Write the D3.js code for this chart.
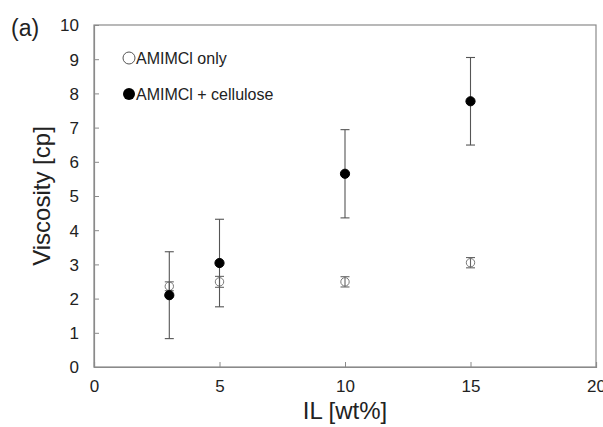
<!DOCTYPE html>
<html>
<head>
<meta charset="utf-8">
<script src="https://cdn.jsdelivr.net/npm/d3@7"></script>
<style>
  body { margin: 0; background: #fff; }
  text { font-family: Arial, "Liberation Sans", sans-serif; fill: #222; }
</style>
</head>
<body>
<svg></svg>
<script>
// data
const ilWt = [3, 5, 10, 15];
const onlyMean = [2.36, 2.49, 2.49, 3.05];
const onlyErr = [0.13, 0.16, 0.15, 0.15];
const celluloseMean = [2.10, 3.04, 5.65, 7.77];
const celluloseErr = [1.27, 1.28, 1.29, 1.28];
const xTicks = [0, 5, 10, 15, 20];
const yTicks = [0, 1, 2, 3, 4, 5, 6, 7, 8, 9, 10];

const W = 603, H = 427;
const svg = d3.select('svg').attr('width', W).attr('height', H);

const margin = {top: 25, right: 7, bottom: 60, left: 94};
const innerWidth = W - margin.left - margin.right;
const innerHeight = H - margin.top - margin.bottom;

const xScale = d3.scaleLinear().domain([0, 20]).range([0, innerWidth]);
const yScale = d3.scaleLinear().domain([0, 10]).range([innerHeight, 0]);

const g = svg.append('g')
  .attr('transform', `translate(${margin.left},${margin.top})`);

const axisColor = '#8a8a8a';

// frame
g.append('rect')
  .attr('width', innerWidth).attr('height', innerHeight)
  .attr('fill', 'none').attr('stroke', axisColor).attr('stroke-width', 1.2);

const xAxis = d3.axisBottom(xScale).tickValues(xTicks).tickSize(-5).tickPadding(13);
const yAxis = d3.axisLeft(yScale).tickValues(yTicks).tickSize(-5).tickPadding(15);

const xAxisG = g.append('g').attr('transform', `translate(0,${innerHeight})`).call(xAxis);
const yAxisG = g.append('g').call(yAxis);
[xAxisG, yAxisG].forEach(a => {
  a.select('.domain').attr('stroke', axisColor).attr('stroke-width', 1.2);
  a.selectAll('.tick line').attr('stroke', axisColor);
  a.selectAll('.tick text').attr('font-size', 17).attr('fill', '#222');
});
yAxisG.selectAll('.tick text').attr('dy', '0.35em');

// axis labels
svg.append('text')
  .attr('x', margin.left + xScale(10)).attr('y', 419)
  .attr('text-anchor', 'middle').attr('font-size', 24)
  .text('IL [wt%]');

svg.append('text')
  .attr('transform', `translate(50,${margin.top + innerHeight / 2}) rotate(-90)`)
  .attr('text-anchor', 'middle').attr('font-size', 24)
  .text('Viscosity [cp]');

svg.append('text')
  .attr('x', 11).attr('y', 36).attr('font-size', 23)
  .text('(a)');

// error bars + points
const drawSeries = (mean, err, filled, barColor) => {
  const data = ilWt.map((x, i) => ({x, y: mean[i], e: err[i]}));
  const eb = g.append('g').attr('stroke', barColor).attr('stroke-width', 1.1);
  data.forEach(d => {
    const cx = xScale(d.x);
    const y1 = yScale(d.y + d.e), y0 = yScale(d.y - d.e);
    eb.append('line').attr('x1', cx).attr('x2', cx).attr('y1', y1).attr('y2', y0);
    eb.append('line').attr('x1', cx - 4.5).attr('x2', cx + 4.5).attr('y1', y1).attr('y2', y1);
    eb.append('line').attr('x1', cx - 4.5).attr('x2', cx + 4.5).attr('y1', y0).attr('y2', y0);
  });
  g.append('g').selectAll('circle').data(data).join('circle')
    .attr('cx', d => xScale(d.x))
    .attr('cy', d => yScale(d.y))
    .attr('r', filled ? 4.6 : 4.2)
    .attr('fill', filled ? '#000' : 'none')
    .attr('stroke', filled ? '#000' : '#777')
    .attr('stroke-width', 1);
};
drawSeries(onlyMean, onlyErr, false, '#666');
drawSeries(celluloseMean, celluloseErr, true, '#555');

// legend
const legend = svg.append('g');
legend.append('circle').attr('cx', 129).attr('cy', 58).attr('r', 6)
  .attr('fill', 'none').attr('stroke', '#555').attr('stroke-width', 1);
legend.append('text').attr('x', 136).attr('y', 64).attr('font-size', 16).text('AMIMCl only');
legend.append('circle').attr('cx', 129).attr('cy', 94).attr('r', 6).attr('fill', '#000');
legend.append('text').attr('x', 136).attr('y', 100).attr('font-size', 16).text('AMIMCl + cellulose');
</script>
</body>
</html>
